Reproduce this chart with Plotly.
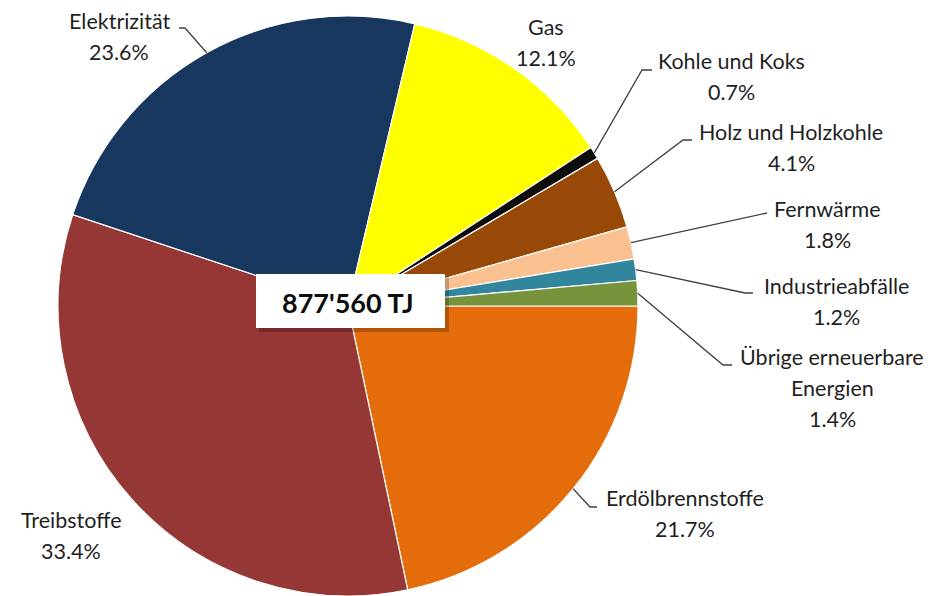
import math
import plotly.graph_objects as go

# ---------------- data ----------------
categories = ["Erdölbrennstoffe", "Treibstoffe", "Elektrizität", "Gas", "Kohle und Koks",
              "Holz und Holzkohle", "Fernwärme", "Industrieabfälle", "Übrige erneuerbare Energien"]
shares = [21.7, 33.4, 23.6, 12.1, 0.7, 4.1, 1.8, 1.2, 1.4]
label_names = [["Erdölbrennstoffe"], ["Treibstoffe"], ["Elektrizität"], ["Gas"], ["Kohle und Koks"],
               ["Holz und Holzkohle"], ["Fernwärme"], ["Industrieabfälle"], ["Übrige erneuerbare", "Energien"]]
colors = ["#E46C0A", "#953735", "#17375E", "#FFFF00", "#0D0D0D",
          "#984807", "#FAC090", "#31859C", "#77933C"]
total_label = "877'560 TJ"

# ---------------- layout constants ----------------
W, H = 937, 596
CX, CY, R = 348, 306, 290          # pie centre / radius in pixels
ROT = 90                            # first slice starts at 3 o'clock
FONT = "Lato"
FS = 21.5
LINE_GAP = 31
TXT = "#1F1F1F"

# label centre (first line) in pixels, and leader elbow points
label_pos = [(685, 498), (71, 520), (119, 21), (546, 27), (731, 61),
             (791, 132), (827, 209), (836, 286), (832, 357)]
leader_pts = [[(590, 507), (597, 507)], None, [(185, 28), (179, 28)], None,
              [(642, 70), (652, 70)], [(683, 140), (692, 140)], [(767, 213)],
              [(745, 293), (753, 293)], [(723, 365), (732, 365)]]


def px(x, y):
    return x / W, 1 - y / H


fig = go.Figure(go.Pie(
    labels=categories, values=shares, sort=False, direction="clockwise", rotation=ROT,
    marker=dict(colors=colors, line=dict(color="white", width=1.2)),
    textinfo="none", hoverinfo="label+percent", showlegend=False,
    domain=dict(x=[(CX - R) / W, (CX + R) / W], y=[1 - (CY + R) / H, 1 - (CY - R) / H]),
))

annotations = []
shapes = []
total = sum(shares)
cum = 0.0
for i, v in enumerate(shares):
    mid = (cum + v / 2) / total
    cum += v
    theta = math.radians(ROT + 360 * mid)
    rx = CX + R * math.sin(theta)
    ry = CY - R * math.cos(theta)
    lx, ly = label_pos[i]
    lines = label_names[i] + [f"{v:.1f}%"]
    for k, t in enumerate(lines):
        ax_, ay_ = px(lx, ly + k * LINE_GAP)
        annotations.append(dict(x=ax_, y=ay_, xref="paper", yref="paper", text=t, showarrow=False,
                                xanchor="center", yanchor="middle",
                                font=dict(family=FONT, size=FS, color=TXT)))
    if leader_pts[i]:
        pts = [(rx, ry)] + leader_pts[i]
        path = "M " + " L ".join(f"{px(x, y)[0]:.5f},{px(x, y)[1]:.5f}" for x, y in pts)
        shapes.append(dict(type="path", path=path, xref="paper", yref="paper",
                           line=dict(color="#404040", width=1.3), layer="above"))

# centre box with shadow
bx0, by0, bx1, by1 = 256, 274, 445, 328
s0 = px(bx0 + 3, by0 + 3); s1 = px(bx1 + 4, by1 + 4)
shapes.append(dict(type="rect", xref="paper", yref="paper", x0=s0[0], y0=s0[1], x1=s1[0], y1=s1[1],
                   fillcolor="rgba(0,0,0,0.22)", line=dict(width=0), layer="above"))
b0 = px(bx0, by0); b1 = px(bx1, by1)
shapes.append(dict(type="rect", xref="paper", yref="paper", x0=b0[0], y0=b0[1], x1=b1[0], y1=b1[1],
                   fillcolor="white", line=dict(width=0), layer="above"))
cx_, cy_ = px(347, 302)
annotations.append(dict(x=cx_, y=cy_, xref="paper", yref="paper", text=f"<b>{total_label}</b>",
                        showarrow=False, xanchor="center", yanchor="middle",
                        font=dict(family=FONT, size=27, color="#0D0D0D")))

fig.update_layout(width=W, height=H, margin=dict(l=0, r=0, t=0, b=0),
                  paper_bgcolor="white", plot_bgcolor="white",
                  annotations=annotations, shapes=shapes)
fig.write_html("out.html", config={"displayModeBar": False},
               post_script="document.body.style.margin='0';")
